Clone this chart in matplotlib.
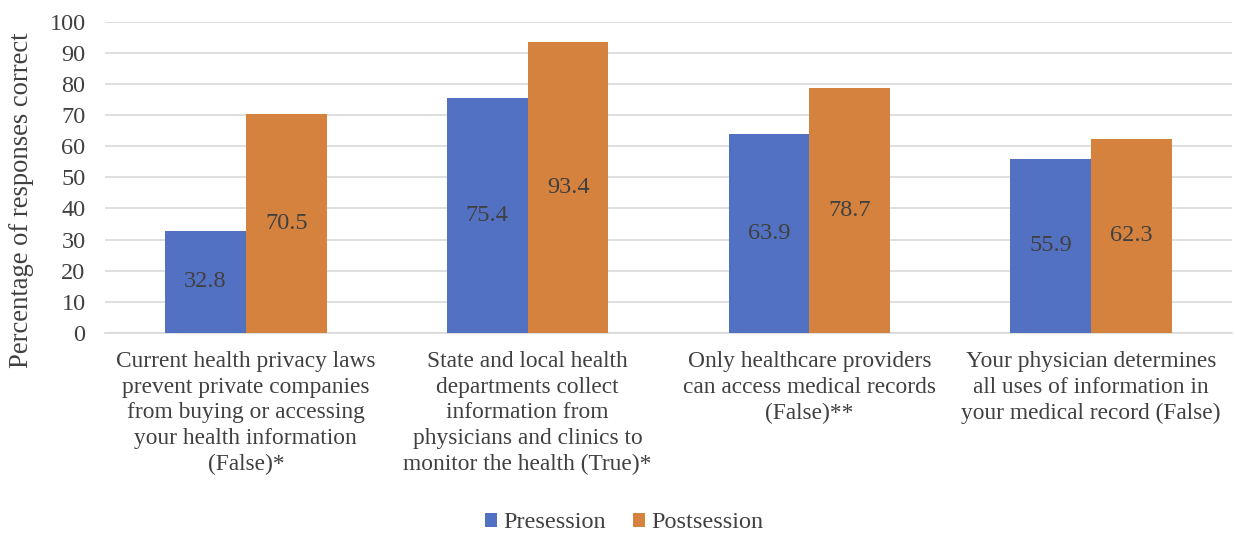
import matplotlib
matplotlib.use("Agg")
import matplotlib.pyplot as plt
import numpy as np

categories = [
    "Current health privacy laws\nprevent private companies\nfrom buying or accessing\nyour health information\n(False)*",
    "State and local health\ndepartments collect\ninformation from\nphysicians and clinics to\nmonitor the health (True)*",
    "Only healthcare providers\ncan access medical records\n(False)**",
    "Your physician determines\nall uses of information in\nyour medical record (False)",
]
presession = [32.8, 75.4, 63.9, 55.9]
postsession = [70.5, 93.4, 78.7, 62.3]
series_names = ["Presession", "Postsession"]
yticks = list(range(0, 101, 10))

plt.rcParams["font.family"] = ["Liberation Serif", "DejaVu Serif"]
text_color = "#404040"
blue = "#5271C2"
orange = "#D5823F"

fig = plt.figure(figsize=(12.35, 5.35), dpi=100)
ax = fig.add_axes([0.085, 0.378, 0.9126, 0.581])

x = np.arange(len(categories))
w = 0.287
b1 = ax.bar(x - w / 2, presession, w, color=blue, label=series_names[0], zorder=3)
b2 = ax.bar(x + w / 2, postsession, w, color=orange, label=series_names[1], zorder=3)

for bars, vals in ((b1, presession), (b2, postsession)):
    for rect, v in zip(bars, vals):
        ax.text(rect.get_x() + rect.get_width() / 2, v / 2, f"{v:.1f}",
                ha="center", va="center", fontsize=17.5, color=text_color, zorder=4)

ax.set_xlim(-0.5, len(categories) - 0.5)
ax.set_ylim(0, 100)
ax.set_yticks(yticks)
ax.set_yticklabels([str(t) for t in yticks], fontsize=17.5, color=text_color)
ax.set_xticks(x)
ax.set_xticklabels(categories, fontsize=16.8, color=text_color, linespacing=1.3)
ax.tick_params(axis="both", length=0)
ax.tick_params(axis="x", pad=13)
ax.tick_params(axis="y", pad=14)
ax.yaxis.grid(True, color="#D9D9D9", linewidth=1.2, zorder=0)
for s in ("top", "right", "left"):
    ax.spines[s].set_visible(False)
ax.spines["bottom"].set_color("#D9D9D9")
ax.spines["bottom"].set_linewidth(1.2)

fig.text(22 / 1235, 1 - 200 / 535, "Percentage of responses correct", rotation=90,
         ha="center", va="center", fontsize=19.2, color=text_color)

fig.legend(loc="center", bbox_to_anchor=(624 / 1235, 1 - 523 / 535), ncol=2, frameon=False,
           fontsize=17.5, handlelength=0.5, handleheight=0.5, handletextpad=0.25,
           columnspacing=1.1, labelcolor=text_color)

fig.savefig("out.png", dpi=100)
